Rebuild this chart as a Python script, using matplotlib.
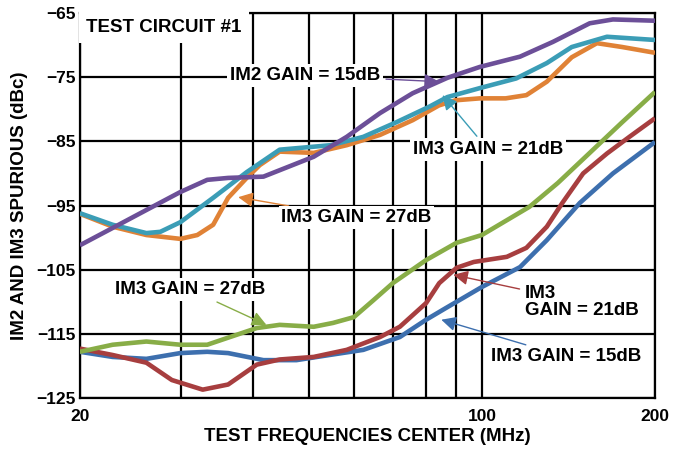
#! /usr/bin/env python3

import numpy as np
import matplotlib.pyplot as plt
from matplotlib.ticker import FixedLocator, NullFormatter

plt.rcParams['font.family'] = ['Liberation Sans', 'DejaVu Sans']
plt.rcParams['font.weight'] = 'bold'

# values (MHz, dBc)
im2_15_f = [20, 22.8, 26.1, 29.9, 33.3, 36.2, 41.7, 44.5, 51, 58.2, 66.5, 75.8, 87.1, 99.2, 116.5, 132.9, 154, 169, 200]
im2_15_y = [-101.2, -98.5, -95.7, -92.9, -91.0, -90.7, -90.5, -89.5, -87.4, -84.3, -80.6, -77.5, -75.1, -73.4, -71.8, -69.5, -66.6, -66.0, -66.2]

hi_21_f = [20, 22.8, 26.1, 27.6, 29.9, 34.1, 39.0, 44.5, 54.6, 62.2, 71.1, 81, 87.1, 99.2, 114.7, 129.7, 143.3, 165, 200]
hi_21_y = [-96.2, -98.0, -99.3, -99.1, -97.6, -93.8, -89.8, -86.3, -85.6, -84.3, -82.0, -79.6, -78.1, -76.7, -75.2, -72.8, -70.3, -68.7, -69.2]

hi_27_f = [20, 22.8, 26.1, 29.9, 32.0, 34.1, 36.2, 39.0, 41.1, 44.5, 51, 58.2, 66.5, 75.8, 84.2, 90, 99.2, 110, 119.5, 129.7, 143.3, 158.5, 175.4, 200]
hi_27_y = [-96.3, -98.3, -99.6, -100.2, -99.6, -98.0, -93.8, -90.7, -88.7, -86.6, -86.8, -85.6, -84.0, -81.7, -79.4, -78.6, -78.3, -78.3, -77.8, -75.7, -71.9, -69.7, -70.3, -71.2]

lo_27_f = [20, 22.8, 26.1, 29.9, 33.3, 36.2, 40.6, 44.5, 51, 55.1, 59.9, 64.7, 70, 80, 90.4, 100, 121, 135.5, 154, 175, 200]
lo_27_y = [-117.8, -116.7, -116.2, -116.7, -116.7, -115.6, -114.1, -113.6, -113.9, -113.3, -112.4, -109.8, -107.1, -103.5, -100.8, -99.6, -95.2, -91.5, -86.8, -82.1, -77.3]

lo_21_f = [20, 22.8, 26.1, 28.9, 32.7, 36.2, 40.6, 44.5, 51, 58.2, 66.5, 72, 80, 84.3, 90.4, 96.8, 110.5, 119.5, 129.7, 138, 150, 165, 180.5, 200]
lo_21_y = [-117.3, -118.3, -119.5, -122.2, -123.7, -122.9, -119.8, -119.0, -118.6, -117.5, -115.5, -113.9, -110.2, -107.1, -104.7, -103.8, -103.0, -101.6, -98.3, -94.6, -90.0, -86.9, -84.3, -81.4]

lo_15_f = [20, 22.8, 26.1, 29.9, 33.3, 36.2, 41.7, 47.6, 54.3, 62.2, 72, 80, 86.5, 100, 116.5, 129.7, 148, 169, 200]
lo_15_y = [-117.8, -118.6, -118.9, -118.0, -117.8, -118.0, -119.1, -119.1, -118.3, -117.5, -115.5, -112.8, -111.0, -107.7, -104.6, -100.4, -94.6, -90.0, -85.1]

PURPLE = '#6c4f98'
TEAL = '#3b9db6'
ORANGE = '#e08236'
GREEN = '#88ad47'
RED = '#a73e3f'
BLUE = '#3d6fae'


def label(ax, text, xy, xytext, color):
    ax.annotate(text, xy=xy, xytext=xytext, fontsize=13.5, fontweight='bold',
                ha='left', va='center', linespacing=1.0, zorder=6,
                bbox=dict(boxstyle='square,pad=0.15', fc='white', ec='none'),
                arrowprops=dict(arrowstyle='-|>', color=color, lw=1,
                                mutation_scale=22, shrinkA=2, shrinkB=0))


def main():
    fig = plt.figure(figsize=(6.83, 4.49), dpi=100)
    ax = fig.add_axes([0.117, 0.1136, 0.842, 0.8574])

    for f, y, c in [(lo_15_f, lo_15_y, BLUE), (lo_21_f, lo_21_y, RED),
                    (lo_27_f, lo_27_y, GREEN), (hi_27_f, hi_27_y, ORANGE),
                    (hi_21_f, hi_21_y, TEAL), (im2_15_f, im2_15_y, PURPLE)]:
        ax.plot(f, y, color=c, lw=3.3, solid_capstyle='butt', solid_joinstyle='round', zorder=3)

    ax.set_xscale('log')
    ax.set_xlim(20, 200)
    ax.set_ylim(-125, -65)
    ax.xaxis.set_major_locator(FixedLocator([20, 100, 200]))
    ax.xaxis.set_minor_locator(FixedLocator([30, 40, 50, 60, 70, 80, 90]))
    ax.xaxis.set_minor_formatter(NullFormatter())
    ax.set_xticklabels(['20', '100', '200'])
    ax.set_yticks(np.arange(-125, -64, 10))
    ax.grid(True, which='both', color='black', lw=1.6, zorder=1)
    ax.tick_params(which='both', length=0, labelsize=12.5)
    ax.tick_params(axis='x', pad=8)
    ax.tick_params(axis='y', pad=3)
    for s in ax.spines.values():
        s.set_linewidth(1.6)

    ax.set_xlabel('TEST FREQUENCIES CENTER (MHz)', fontsize=13.5, fontweight='bold', labelpad=3)
    ax.set_ylabel('IM2 AND IM3 SPURIOUS (dBc)', fontsize=13.5, fontweight='bold', labelpad=6)

    ax.text(0.011, 0.985, 'TEST CIRCUIT #1', transform=ax.transAxes, fontsize=13.5,
            fontweight='bold', va='top', ha='left', zorder=6,
            bbox=dict(boxstyle='square,pad=0.4', fc='white', ec='none'))

    label(ax, 'IM2 GAIN = 15dB', (84.2, -75.7), (36.5, -74.7), PURPLE)
    label(ax, 'IM3 GAIN = 21dB', (85.4, -77.8), (75.9, -86.3), TEAL)
    label(ax, 'IM3 GAIN = 27dB', (37.7, -93.7), (44.8, -96.9), ORANGE)
    label(ax, 'IM3 GAIN = 27dB', (42.2, -113.6), (23.0, -108.1), GREEN)
    label(ax, 'IM3\nGAIN = 21dB', (89.2, -105.8), (118.9, -110.1), RED)
    label(ax, 'IM3 GAIN = 15dB', (85.0, -112.8), (103.9, -118.6), BLUE)

    fig.savefig('out.png', dpi=100)


if __name__ == "__main__":
    main()
